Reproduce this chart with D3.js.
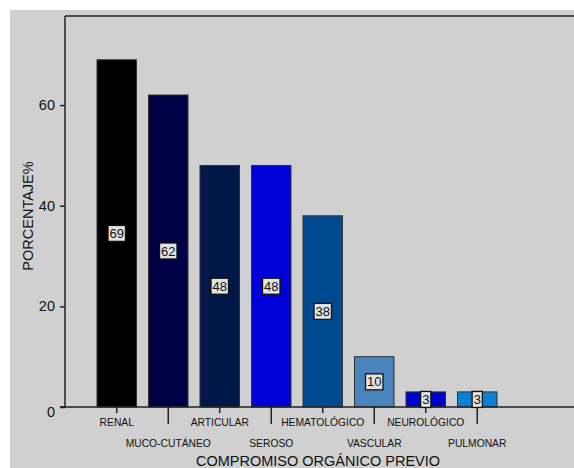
<!DOCTYPE html>
<html>
<head>
<meta charset="utf-8">
<script src="https://cdn.jsdelivr.net/npm/d3@7"></script>
<style>
html,body{margin:0;padding:0;background:#fff;}
svg{display:block;}
text{font-family:"Liberation Sans",Arial,Helvetica,sans-serif;fill:#111;}
</style>
</head>
<body>
<svg id="chart" width="574" height="468"></svg>
<script>
const categories = ["RENAL","MUCO-CUTÁNEO","ARTICULAR","SEROSO","HEMATOLÓGICO","VASCULAR","NEUROLÓGICO","PULMONAR"];
const values = [69, 62, 48, 48, 38, 10, 3, 3];
const barColors = ["#000000","#000044","#001848","#0000d8","#004890","#4a84bc","#0000cc","#0a7fd4"];
const yTicks = [0, 20, 40, 60];
const xTitle = "COMPROMISO ORGÁNICO PREVIO";
const yTitle = "PORCENTAJE%";

const svg = d3.select("#chart");
const W = 574, H = 468;
const plot = {left: 65, top: 16, right: 574, bottom: 407};

svg.append("rect").attr("x",10).attr("y",10).attr("width",W-10).attr("height",H-10).attr("fill","#d0d0d0");

const x = d3.scaleBand().domain(categories).range([91, 503]).paddingInner(0.233).paddingOuter(0.1165);
const y = d3.scaleLinear().domain([0, 77.7]).range([plot.bottom, plot.top]);

// frame
svg.append("line").attr("x1",plot.left).attr("x2",plot.right).attr("y1",plot.top).attr("y2",plot.top)
  .attr("stroke","#222").attr("stroke-width",1.5);

// bars
const data = categories.map((c,i)=>({c, v: values[i], col: barColors[i], i}));
svg.append("g").selectAll("rect").data(data).join("rect")
  .attr("x", d=>x(d.c)).attr("width", x.bandwidth())
  .attr("y", d=>y(d.v)).attr("height", d=>y(0)-y(d.v))
  .attr("fill", d=>d.col).attr("stroke","#333").attr("stroke-width",1);

// y axis
const yAxis = d3.axisLeft(y).tickValues(yTicks).tickSize(5).tickPadding(5).tickFormat(d3.format("d"));
const gy = svg.append("g").attr("transform",`translate(${plot.left},0)`).call(yAxis);
gy.select(".domain").attr("stroke","#222").attr("stroke-width",1.5).attr("d",`M-5,${plot.bottom}H0V${plot.top}`);
gy.selectAll(".tick line").attr("stroke","#222").attr("stroke-width",1.5);
gy.selectAll(".tick text").attr("font-size",14.5).attr("fill","#111")
  .style("font-family",'"Liberation Sans",Arial,sans-serif')
  .attr("dy", d=> d===0 ? "0.65em" : "0.32em");

// x axis baseline
svg.append("line").attr("x1",plot.left-5).attr("x2",plot.right).attr("y1",plot.bottom).attr("y2",plot.bottom)
  .attr("stroke","#222").attr("stroke-width",1.5);

// x ticks & staggered labels
const gx = svg.append("g");
data.forEach(d=>{
  const cx = x(d.c) + x.bandwidth()/2;
  const odd = d.i % 2 === 1;
  gx.append("line").attr("x1",cx).attr("x2",cx).attr("y1",plot.bottom).attr("y2",plot.bottom + (odd?17:6))
    .attr("stroke","#222").attr("stroke-width",1.5);
  gx.append("text").attr("x",cx).attr("y", odd ? 447 : 426).attr("text-anchor","middle")
    .attr("font-size",10.3).text(d.c);
});

// value labels
const lg = svg.append("g");
data.forEach(d=>{
  const cx = x(d.c) + x.bandwidth()/2;
  const cy = (y(d.v) + y(0))/2;
  const t = lg.append("text").attr("x",cx).attr("y",cy).attr("text-anchor","middle")
    .attr("dominant-baseline","central").attr("font-size",13).text(d.v);
  const bb = t.node().getBBox();
  lg.insert("rect","text:last-of-type")
    .attr("x", bb.x-1.5).attr("y", cy-8).attr("width", bb.width+3).attr("height", 16)
    .attr("fill","#e2e2e2").attr("stroke","#111").attr("stroke-width",1.3);
  t.raise();
});

// titles
svg.append("text").attr("x",318).attr("y",466).attr("text-anchor","middle").attr("font-size",14.5).text(xTitle);
svg.append("text").attr("transform","translate(33,216) rotate(-90)").attr("text-anchor","middle")
  .attr("font-size",14.5).text(yTitle);
</script>
</body>
</html>
